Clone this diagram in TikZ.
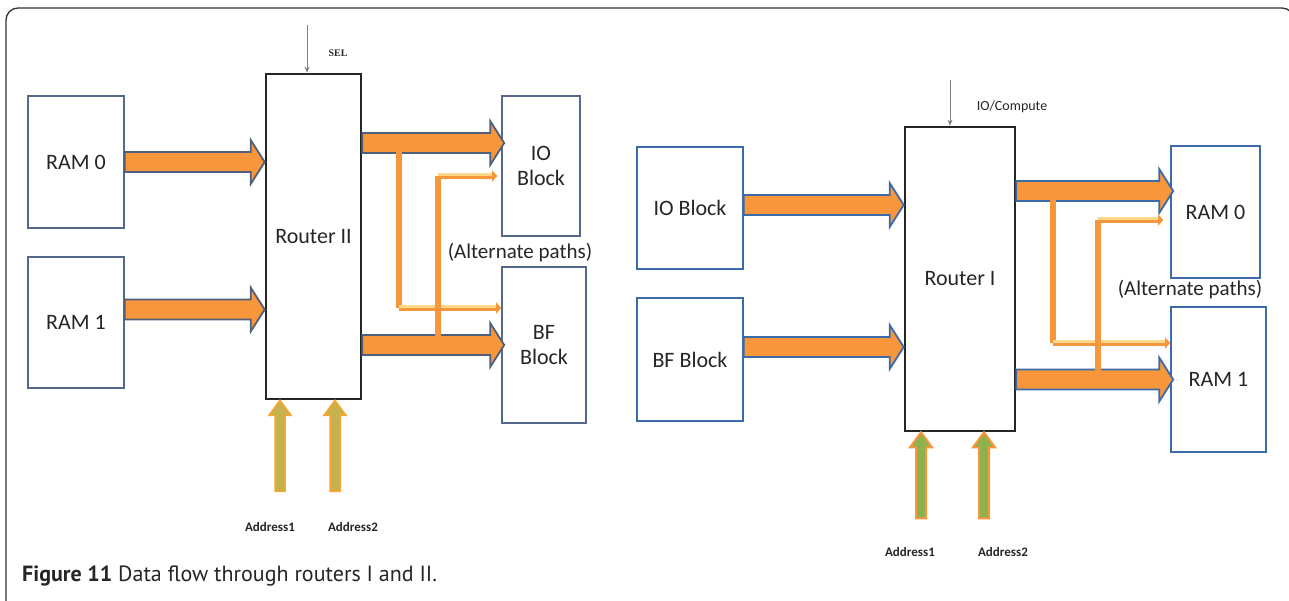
\documentclass[tikz,border=0pt]{standalone}
\usepackage{fontspec}
\setmainfont{Carlito}
\newfontfamily\capfont{PT Sans}
\newfontfamily\seriffont{Liberation Serif}
\usetikzlibrary{arrows.meta,calc}

\definecolor{orng}{HTML}{F7963A}
\definecolor{loutl}{HTML}{4E607E}
\definecolor{routl}{HTML}{3D6AA8}
\definecolor{lboxc}{HTML}{56698C}
\definecolor{ltyel}{HTML}{FCD88A}
\definecolor{khaki}{HTML}{C6B14C}
\definecolor{grn}{HTML}{8DB14F}
\definecolor{txt}{HTML}{262626}

\tikzset{
  boxL/.style={draw=lboxc, line width=1.6pt, fill=white, inner sep=0pt, align=center,
    font=\fontsize{22}{25}\selectfont, text=txt},
  boxR/.style={boxL, draw=routl},
  routerbox/.style={draw=black!85, line width=2.6pt, fill=white, inner sep=0pt,
    font=\fontsize{22}{25}\selectfont, text=txt},
  blkL/.style={fill=orng, draw=loutl, line width=1.8pt, line join=miter},
  blkR/.style={fill=orng, draw=routl, line width=1.8pt, line join=miter},
  addrL/.style={fill=khaki, draw=orng!85!yellow, line width=1.5pt},
  addrR/.style={fill=grn, draw=orng, line width=2pt},
  altpath/.style={draw=orng, line width=6pt},
  althi/.style={draw=ltyel, line width=2.5pt},
  altend/.style={draw=orng, line width=6pt, -{Triangle[length=5pt,width=11pt]}},
  ctrl/.style={draw=gray, line width=0.8pt, -{Stealth[length=6pt,width=5pt]}},
  smalllbl/.style={font=\bfseries\fontsize{13}{14}\selectfont, text=txt},
  altlbl/.style={font=\fontsize{21}{23}\selectfont, text=txt, inner sep=0pt},
  frame/.style={draw=black!80, line width=1.3pt, rounded corners=12pt}
}

\newcommand\harrow[3][]{%
  \draw[#1] ([yshift=10pt]#2) -- ([xshift=-14pt,yshift=10pt]#3) -- ([xshift=-14pt,yshift=22pt]#3)
  -- (#3) -- ([xshift=-14pt,yshift=-22pt]#3) -- ([xshift=-14pt,yshift=-10pt]#3)
  -- ([yshift=-10pt]#2) -- cycle;}
\newcommand\varrow[3][]{%
  \draw[#1] ([xshift=-5pt]#2) -- ([xshift=-5pt,yshift=-15pt]#3) -- ([xshift=-11pt,yshift=-15pt]#3)
  -- (#3) -- ([xshift=11pt,yshift=-15pt]#3) -- ([xshift=5pt,yshift=-15pt]#3)
  -- ([xshift=5pt]#2) -- cycle;}

\begin{document}
\begin{tikzpicture}[x=1pt,y=-1pt]
\useasboundingbox (0,0) rectangle (1289,600);
\fill[white] (0,0) rectangle (1289,600);
\draw[frame] (6,602) -- (6,8) -- (1294,8) -- (1294,602);

% ---------------- left diagram ----------------
\node[boxL, minimum width=96pt, minimum height=132pt] (ram0) at (76,162) {RAM 0};
\node[boxL, minimum width=96pt, minimum height=131pt] (ram1) at (76,322.5) {RAM 1};
\node[routerbox, minimum width=95pt, minimum height=325pt] (router2) at (313.5,236.5) {Router II};
\node[boxL, minimum width=78pt, minimum height=140pt] (io2) at (541,166) {IO\\Block};
\node[boxL, minimum width=84pt, minimum height=156pt] (bf2) at (544,345) {BF\\Block};
\node[altlbl] (alt2lbl) at (520,253) {(Alternate paths)};
\node[font=\seriffont\bfseries\fontsize{10}{11}\selectfont, text=txt] (sel) at (338,53) {SEL};

\coordinate (selt) at ([xshift=-6.5pt]router2.north);
\coordinate (sels) at ([yshift=48pt]selt);
\draw[ctrl] (sels) -- (selt);

\coordinate (a1s) at (ram0.east);
\coordinate (a1e) at (router2.west |- a1s);
\coordinate (a2s) at ([yshift=13pt]ram1.east);
\coordinate (a2e) at (router2.west |- a2s);
\coordinate (a3e) at ([xshift=3pt,yshift=23pt]io2.west);
\coordinate (a3s) at (router2.east |- a3e);
\coordinate (a4e) at ([xshift=3pt]bf2.west);
\coordinate (a4s) at (router2.east |- a4e);
\harrow[blkL]{a1s}{a1e}
\harrow[blkL]{a2s}{a2e}
\harrow[blkL]{a3s}{a3e}
\harrow[blkL]{a4s}{a4e}

% alternate paths (left)
\coordinate (p1) at ($(a3s)+(37,0)$);
\coordinate (p3) at ([yshift=37pt]bf2.west);
\coordinate (p2) at (p1 |- p3);
\coordinate (q1) at ($(a4s)+(76,0)$);
\coordinate (q3) at ([xshift=-4pt,yshift=-10pt]io2.west);
\coordinate (q2) at (q1 |- q3);
\draw[altpath] (p1) -- (p2);
\draw[altend] (p2) -- (p3);
\draw[althi] ([yshift=1.5pt]p2) -- ([xshift=-5pt,yshift=1.5pt]p3);
\draw[altpath] (q1) -- (q2);
\draw[altend] (q2) -- (q3);
\draw[althi] ([yshift=1.5pt]q2) -- ([xshift=-5pt,yshift=1.5pt]q3);

% address arrows (left)
\coordinate (l1t) at ([xshift=-33.5pt]router2.south);
\coordinate (l1b) at ([yshift=-91pt]l1t);
\coordinate (l2t) at ([xshift=21.5pt]router2.south);
\coordinate (l2b) at ([yshift=-91pt]l2t);
\varrow[addrL]{l1b}{l1t}
\varrow[addrL]{l2b}{l2t}
\node[smalllbl] (addl1) at (270,527) {Address1};
\node[smalllbl] (addl2) at (353,527) {Address2};

% ---------------- right diagram ----------------
\node[boxR, minimum width=106pt, minimum height=122pt] (io1) at (690,208) {IO Block};
\node[boxR, minimum width=106pt, minimum height=123pt] (bf1) at (690,359.5) {BF Block};
\node[routerbox, minimum width=110pt, minimum height=304pt] (router1) at (960,279) {Router I};
\node[boxR, minimum width=89pt, minimum height=132pt] (ram0r) at (1215.5,212) {RAM 0};
\node[boxR, minimum width=95pt, minimum height=145pt] (ram1r) at (1218.5,379.5) {RAM 1};
\node[altlbl] (alt1lbl) at (1190,290) {(Alternate paths)};
\node[font=\fontsize{14}{15}\selectfont, text=txt] (ioc) at (1012,107) {IO/Compute};

\coordinate (iot) at ([xshift=-10pt]router1.north);
\coordinate (ios) at ([yshift=46pt]iot);
\draw[ctrl] (ios) -- (iot);

\coordinate (b1s) at ([yshift=3pt]io1.east);
\coordinate (b1e) at (router1.west |- b1s);
\coordinate (b2s) at ([yshift=12.5pt]bf1.east);
\coordinate (b2e) at (router1.west |- b2s);
\coordinate (b3e) at ([xshift=3pt,yshift=21pt]ram0r.west);
\coordinate (b3s) at (router1.east |- b3e);
\coordinate (b4e) at ([xshift=3pt]ram1r.west);
\coordinate (b4s) at (router1.east |- b4e);
\harrow[blkR]{b1s}{b1e}
\harrow[blkR]{b2s}{b2e}
\harrow[blkR]{b3s}{b3e}
\harrow[blkR]{b4s}{b4e}

% alternate paths (right)
\coordinate (r1) at ($(b3s)+(37,0)$);
\coordinate (r3) at ([yshift=36.5pt]ram1r.west);
\coordinate (r2) at (r1 |- r3);
\coordinate (s1) at ($(b4s)+(82,0)$);
\coordinate (s3) at ([xshift=-7pt,yshift=-8pt]ram0r.west);
\coordinate (s2) at (s1 |- s3);
\draw[altpath] (r1) -- (r2);
\draw[altend] (r2) -- (r3);
\draw[althi] ([yshift=1.5pt]r2) -- ([xshift=-5pt,yshift=1.5pt]r3);
\draw[altpath] (s1) -- (s2);
\draw[altend] (s2) -- (s3);
\draw[althi] ([yshift=1.5pt]s2) -- ([xshift=-5pt,yshift=1.5pt]s3);

% address arrows (right)
\coordinate (m1t) at ([xshift=-39pt]router1.south);
\coordinate (m1b) at ([yshift=-86pt]m1t);
\coordinate (m2t) at ([xshift=24pt]router1.south);
\coordinate (m2b) at ([yshift=-86pt]m2t);
\varrow[addrR]{m1b}{m1t}
\varrow[addrR]{m2b}{m2t}
\node[smalllbl] (addr1) at (910,552) {Address1};
\node[smalllbl] (addr2) at (1003,552) {Address2};

% caption
\node[anchor=west, font=\capfont\fontsize{22}{25}\selectfont, text=txt, inner sep=0pt] (cap) at (22,576)
  {\textbf{Figure 11} Data flow through routers I and II.};
\end{tikzpicture}
\end{document}
